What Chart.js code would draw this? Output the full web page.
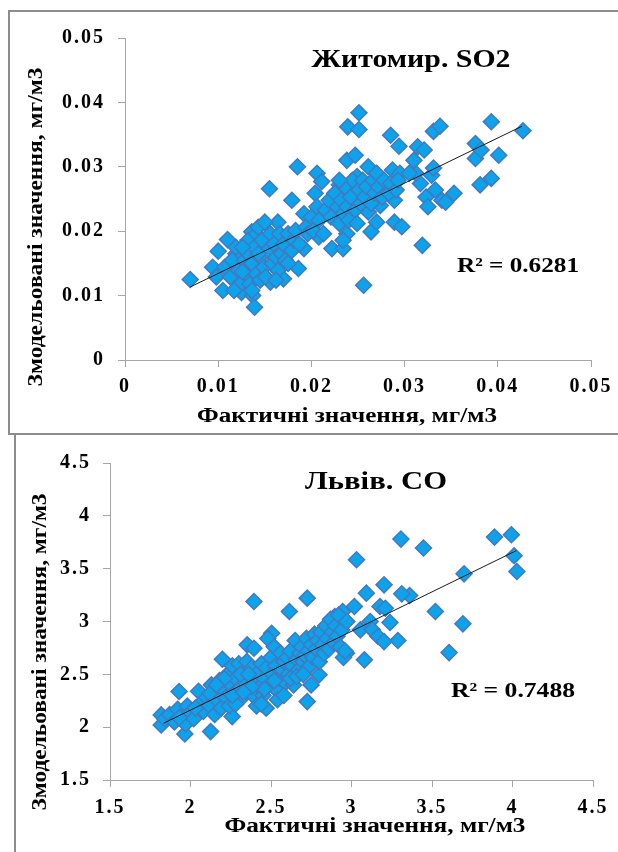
<!DOCTYPE html>
<html><head><meta charset="utf-8">
<script src="https://cdn.jsdelivr.net/npm/chart.js@4.4.1/dist/chart.umd.min.js"></script>
<style>
html,body{margin:0;padding:0;background:#fff;width:618px;height:852px;overflow:hidden;}
#box1{position:absolute;left:8px;top:10px;width:640px;height:425px;border:2px solid #8c8c8c;box-sizing:border-box;}
#box2{position:absolute;left:14px;top:434px;width:2px;height:430px;background:#8c8c8c;}
#c1{position:absolute;left:0;top:0;}
#c2{position:absolute;left:0;top:434px;}
</style></head><body>
<div id="box1"></div><div id="box2"></div>
<canvas id="c1" width="618" height="434"></canvas>
<canvas id="c2" width="618" height="418"></canvas>
<script>
// ---------- Chart 1: Житомир. SO2 ----------
const zX = [
0.0070,0.0094,0.0100,0.0098,0.0105,0.0110,0.0119,0.0125,0.0137,0.0139,
0.0136,0.0155,0.0164,0.0170,0.0179,0.0185,0.0186,0.0192,0.0192,0.0204,
0.0206,0.0211,0.0208,0.0222,0.0230,0.0234,0.0238,0.0239,0.0238,0.0251,
0.0251,0.0247,0.0249,0.0256,0.0261,0.0264,0.0261,0.0270,0.0274,0.0285,
0.0289,0.0294,0.0297,0.0287,0.0295,0.0289,0.0314,0.0319,0.0317,0.0321,
0.0312,0.0323,0.0325,0.0329,0.0331,0.0331,0.0338,0.0333,0.0340,0.0353,
0.0344,0.0376,0.0376,0.0382,0.0381,0.0393,0.0393,0.0401,0.0427,
0.0107,0.0113,0.0115,0.0119,0.0122,0.0124,0.0128,0.0130,0.0132,0.0132,
0.0134,0.0136,0.0139,0.0141,0.0141,0.0143,0.0145,0.0145,0.0147,0.0149,
0.0150,0.0153,0.0156,0.0156,0.0158,0.0160,0.0162,0.0164,0.0166,0.0168,
0.0170,0.0172,0.0175,0.0179,0.0181,0.0183,0.0187,0.0194,0.0196,0.0117,
0.0126,0.0136,0.0151,0.0162,0.0175,0.0143,0.0126,
0.0200,0.0202,0.0206,0.0208,0.0213,0.0215,0.0219,0.0221,0.0225,0.0228,
0.0230,0.0232,0.0234,0.0236,0.0238,0.0240,0.0242,0.0244,0.0247,0.0249,
0.0251,0.0253,0.0255,0.0257,0.0259,0.0264,0.0266,0.0268,0.0270,0.0272,
0.0276,0.0278,0.0283,0.0285,0.0291,0.0293,0.0305,0.0310,0.0234,0.0230
];
const zY = [
0.0125,0.0144,0.0169,0.0129,0.0108,0.0187,0.0165,0.0105,0.0100,0.0082,
0.0199,0.0266,0.0214,0.0126,0.0248,0.0300,0.0142,0.0173,0.0227,0.0259,
0.0290,0.0277,0.0191,0.0173,0.0272,0.0173,0.0310,0.0362,0.0196,0.0384,
0.0358,0.0318,0.0285,0.0116,0.0230,0.0199,0.0300,0.0214,0.0240,0.0349,
0.0214,0.0332,0.0207,0.0295,0.0290,0.0248,0.0331,0.0178,0.0274,0.0326,
0.0290,0.0253,0.0238,0.0287,0.0298,0.0355,0.0363,0.0264,0.0248,0.0259,
0.0245,0.0336,0.0313,0.0326,0.0272,0.0370,0.0282,0.0318,0.0356,
0.0144,0.0129,0.0155,0.0175,0.0139,0.0118,0.0155,0.0134,0.0165,0.0186,
0.0118,0.0150,0.0175,0.0196,0.0134,0.0206,0.0160,0.0124,0.0186,0.0144,
0.0214,0.0170,0.0196,0.0121,0.0150,0.0180,0.0160,0.0139,0.0196,0.0165,
0.0180,0.0155,0.0196,0.0170,0.0186,0.0201,0.0180,0.0206,0.0196,0.0108,
0.0137,0.0108,0.0129,0.0124,0.0150,0.0165,0.0175,
0.0222,0.0201,0.0238,0.0217,0.0196,0.0233,0.0248,0.0222,0.0259,0.0238,
0.0212,0.0248,0.0227,0.0269,0.0238,0.0217,0.0253,0.0279,0.0233,0.0212,
0.0264,0.0243,0.0279,0.0253,0.0269,0.0243,0.0279,0.0259,0.0290,0.0269,
0.0253,0.0279,0.0259,0.0274,0.0264,0.0279,0.0290,0.0310,0.0186,0.0279
];
const zTrendX = [0.0070, 0.0426];
const zTrendY = [0.01134, 0.0363];
const zTicks = ['0','0.01','0.02','0.03','0.04','0.05'];

// ---------- Chart 2: Львів. CO ----------
const lX = [
3.888,3.993,4.010,4.027,3.307,3.447,3.031,3.699,3.692,3.606,
3.521,3.361,3.312,3.288,3.239,3.202,3.092,3.080,3.177,3.210,
2.394,2.614,2.725,2.725,2.749,2.798,1.929,2.125,1.965,1.818,
1.818,2.259,2.198,2.352,2.394,2.504,3.116,3.018,3.055,3.129,
3.165,3.202,2.969,2.945,2.896,2.969,
1.84,1.87,1.90,1.92,1.95,1.97,1.98,2.00,2.02,2.05,
2.06,2.08,2.10,2.12,2.13,2.15,2.15,2.17,2.18,2.19,
2.20,2.22,2.23,2.24,2.25,2.26,2.27,2.28,2.30,2.30,
2.32,2.33,2.34,2.35,2.36,2.37,2.38,2.39,2.40,2.41,
2.42,2.43,2.44,2.45,2.46,2.47,2.47,2.48,2.49,2.50,
2.51,2.52,2.53,2.53,2.54,2.55,2.56,2.57,2.58,2.59,
2.60,2.61,2.62,2.63,2.64,2.65,2.66,2.67,2.68,2.69,
2.70,2.71,2.72,2.73,2.74,2.75,2.76,2.77,2.78,2.79,
2.80,2.81,2.82,2.83,2.84,2.85,2.86,2.87,2.88,2.89,
2.90,2.91,2.92,2.93,2.94,2.95,2.96,2.97,2.28,2.21,
2.31,2.44,2.36,2.58,2.62,2.66,2.70,2.52,2.46,2.38,
2.26,2.12,2.03,1.93,2.16,2.33
];
const lY = [
3.799,3.821,3.622,3.473,3.780,3.695,3.584,3.451,2.978,2.706,
3.095,3.246,3.262,2.820,2.990,3.347,3.268,2.637,3.142,3.126,
3.189,3.095,3.221,2.242,2.400,2.495,2.337,1.958,1.936,2.116,
2.021,2.100,2.643,2.779,2.747,2.889,3.000,3.142,2.921,2.921,
2.858,2.810,2.700,3.095,3.047,3.000,
2.08,2.12,2.05,2.17,2.10,2.03,2.20,2.14,2.08,2.34,
2.22,2.15,2.28,2.20,2.40,2.12,2.32,2.25,2.44,2.18,
2.36,2.28,2.50,2.20,2.40,2.58,2.32,2.46,2.36,2.60,
2.28,2.52,2.42,2.62,2.34,2.48,2.56,2.30,2.44,2.20,
2.52,2.38,2.60,2.30,2.46,2.18,2.56,2.84,2.40,2.66,
2.50,2.76,2.36,2.58,2.26,2.46,2.70,2.54,2.62,2.42,
2.66,2.50,2.72,2.58,2.40,2.82,2.64,2.54,2.70,2.76,
2.62,2.68,2.84,2.72,2.58,2.78,2.66,2.88,2.74,2.82,
2.62,2.90,2.78,2.70,2.96,2.84,2.74,3.02,2.90,2.80,
2.96,2.86,3.06,2.76,2.92,2.66,2.72,3.00,2.22,2.46,
2.50,2.22,2.50,2.30,2.46,2.48,2.50,2.44,2.36,2.38,
2.30,2.32,2.18,2.09,2.40,2.33
];
const lTrendX = [1.833, 4.024];
const lTrendY = [2.037, 3.671];
const lTicks = ['1.5','2','2.5','3','3.5','4','4.5'];

const FONT = '"Liberation Serif", "Times New Roman", serif';

// wider glyph spacing for tick labels (the reference text is set wide)
const spacingPlugin = {
  id: 'spacing',
  beforeDraw(chart) { try { chart.ctx.letterSpacing = '2px'; } catch (e) {} }
};

const textPlugin = {
  id: 'texts',
  afterDraw(chart, args, opts) {
    const ctx = chart.ctx;
    ctx.save();
    try { ctx.letterSpacing = '0px'; } catch (e) {}
    ctx.fillStyle = '#000';
    ctx.textAlign = 'center';
    ctx.textBaseline = 'middle';
    for (const t of opts.items) {
      ctx.save();
      ctx.font = 'bold ' + t.size + 'px ' + FONT;
      const w0 = ctx.measureText(t.text).width;
      ctx.translate(t.x, t.y);
      if (t.rot) ctx.rotate(t.rot);
      if (t.w) ctx.scale(t.w / w0, 1);
      ctx.fillText(t.text, 0, 0);
      ctx.restore();
    }
    ctx.restore();
  }
};

function makeChart(id, xs, ys, tx, ty, ticks, opt) {
  const pts = xs.map((x, i) => ({x: x, y: ys[i]}));
  const trend = tx.map((x, i) => ({x: x, y: ty[i]}));
  const tickVals = ticks.map(Number);
  const axisCommon = (min, max, step) => ({
    type: 'linear', min: min, max: max,
    grid: {display: true, drawOnChartArea: false, drawTicks: true, tickLength: 7, color: '#a6a6a6', lineWidth: 1},
    border: {display: true, color: '#a6a6a6', width: 1},
    ticks: {
      stepSize: step,
      color: '#000',
      font: {family: FONT, size: 20, weight: 'bold'},
      callback: (v) => { const k = tickVals.findIndex(t => Math.abs(t - v) < step / 100); return k >= 0 ? ticks[k] : ''; }
    }
  });
  const xs_ = axisCommon(tickVals[0], tickVals[tickVals.length - 1], tickVals[1] - tickVals[0]);
  xs_.ticks.padding = opt.xPad;
  xs_.ticks.maxRotation = 0;
  xs_.afterFit = s => { s.height = opt.xH; };
  const ys_ = axisCommon(tickVals[0], tickVals[tickVals.length - 1], tickVals[1] - tickVals[0]);
  ys_.ticks.padding = opt.yPad;
  ys_.afterFit = s => { s.width = opt.yW; };
  return new Chart(document.getElementById(id), {
    type: 'scatter',
    data: {
      datasets: [
        {type: 'line', data: trend, borderColor: '#1a1a1a', borderWidth: 1, pointRadius: 0, fill: false, order: 0},
        {data: pts, pointStyle: 'rectRot', pointRadius: 8, backgroundColor: '#0CA3EA', borderColor: '#4379C0', borderWidth: 1.5, order: 1}
      ]
    },
    options: {
      responsive: false, animation: false, devicePixelRatio: 1,
      layout: {padding: opt.padding},
      plugins: {legend: {display: false}, tooltip: {enabled: false}, texts: {items: opt.texts}},
      scales: {x: xs_, y: ys_}
    },
    plugins: [spacingPlugin, textPlugin]
  });
}

makeChart('c1', zX, zY, zTrendX, zTrendY, zTicks, {
  padding: {left: 0, top: 38, right: 27, bottom: 0},
  xH: 74, yW: 125, xPad: 8, yPad: 13,
  texts: [
    {text: 'Житомир. SO2', x: 411, y: 60, size: 26, w: 199},
    {text: 'R² = 0.6281', x: 518, y: 267, size: 21, w: 122},
    {text: 'Фактичні значення, мг/м3', x: 347, y: 417, size: 20, w: 300},
    {text: 'Змодельовані значення, мг/м3', x: 37, y: 227, size: 20, w: 319, rot: -Math.PI / 2}
  ]
});

makeChart('c2', lX, lY, lTrendX, lTrendY, lTicks, {
  padding: {left: 0, top: 29, right: 25, bottom: 0},
  xH: 72, yW: 110, xPad: 9, yPad: 12,
  texts: [
    {text: 'Львів. CO', x: 376, y: 48, size: 26, w: 142},
    {text: 'R² = 0.7488', x: 513, y: 258, size: 21, w: 124},
    {text: 'Фактичні значення, мг/м3', x: 375, y: 393, size: 20, w: 301},
    {text: 'Змодельовані значення, мг/м3', x: 41, y: 218, size: 20, w: 317, rot: -Math.PI / 2}
  ]
});
</script>
</body></html>
